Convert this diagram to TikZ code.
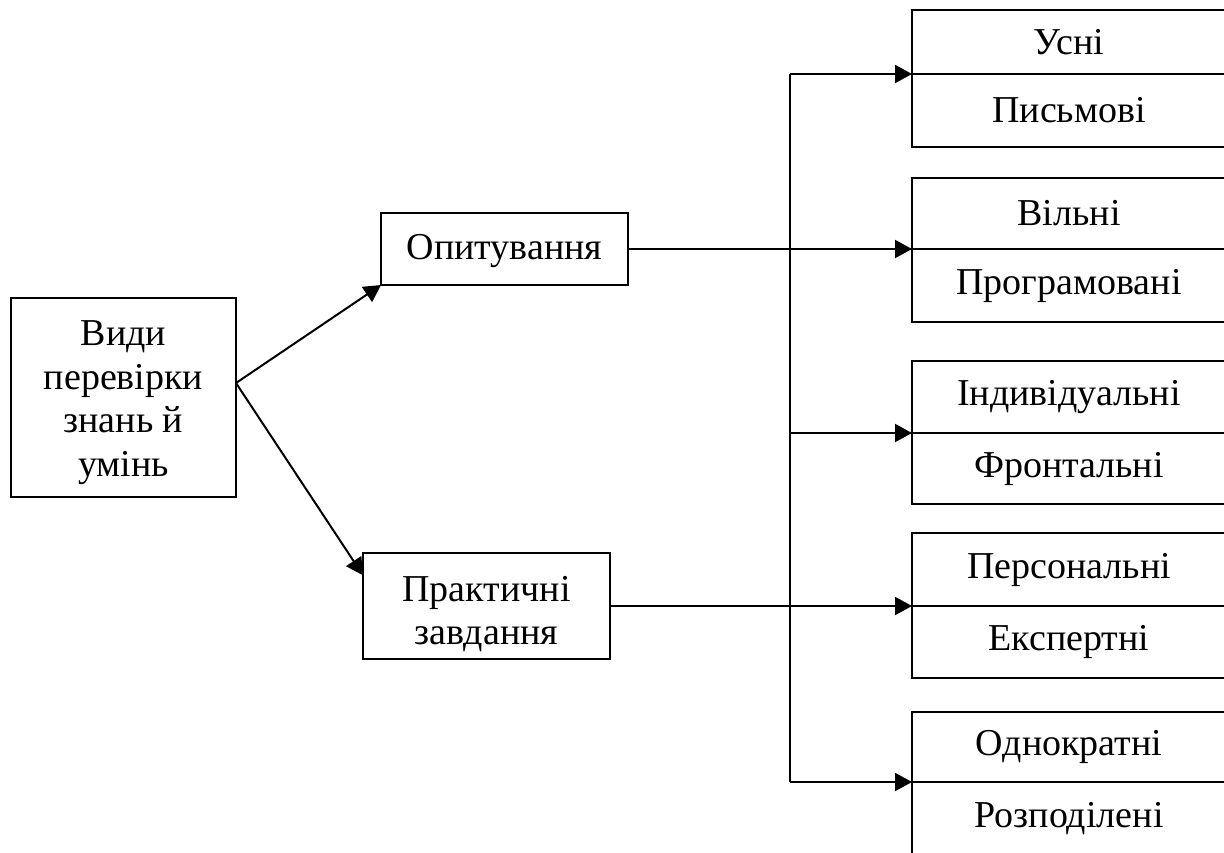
\documentclass[tikz,border=0pt]{standalone}
\usepackage{fontspec}
\setmainfont{Liberation Serif}
\usetikzlibrary{arrows.meta,calc}
\begin{document}
\begin{tikzpicture}[x=0.5pt,y=-0.5pt,
  every node/.style={font=\fontsize{19}{21.8}\selectfont, inner sep=0pt, outer sep=0pt},
  box/.style={draw, line width=1pt, minimum width=#1*0.5pt},
  cell/.style={draw, line width=1pt, minimum width=314*0.5pt, anchor=north west},
  ln/.style={line width=1pt},
  arr/.style={line width=1pt, -{Triangle[length=8.5pt,width=9pt]}}]
\useasboundingbox (0,0) rectangle (1224,852);
\clip (0,0) rectangle (1224,852);
% left boxes
\node[box=225, minimum height=99.5pt] (m) at (123.5,397.5) {};
\node[align=center] (mt) at ([yshift=-2.5pt]m.center) {Види\\перевірки\\знань й\\умінь};
\node[box=247, minimum height=36pt] (o) at (504.5,249) {};
\node (ot) at ([yshift=-1pt]o.center) {Опитування};
\node[box=247, minimum height=53pt] (p) at (486.5,606) {};
\node[align=center] (pt) at ([yshift=-4pt]p.center) {Практичні\\завдання};
% right cells
\node[cell, minimum height=32pt] (u1) at (912,10) {Усні};
\node[cell, minimum height=36.5pt] (l1) at (912,74) {Письмові};
\node[cell, minimum height=35.5pt] (u2) at (912,178) {Вільні};
\node[cell, minimum height=36.5pt] (l2) at (912,249) {Програмовані};
\node[cell, minimum height=36pt] (u3) at (912,361) {Індивідуальні};
\node[cell, minimum height=35.5pt] (l3) at (912,433) {Фронтальні};
\node[cell, minimum height=36.5pt] (u4) at (912,533) {Персональні};
\node[cell, minimum height=36pt] (l4) at (912,606) {Експертні};
\node[cell, minimum height=35pt] (u5) at (912,712) {Однократні};
\node[cell, minimum height=37pt] (l5) at (912,782) {Розподілені};
% bus
\coordinate (bt) at (790,74);
\coordinate (bb) at (790,782);
\draw[ln] (bt) -- (bb);
\draw[arr] (bt) -- (u1.south west);
\draw[arr] (790,433) -- (u3.south west);
\draw[arr] (bb) -- (u5.south west);
\draw[arr] (o.east) -- (u2.south west);
\draw[arr] (p.east) -- (u4.south west);
% main arrows
\draw[arr] ([yshift=7.25pt]m.east) -- (o.south west);
\draw[arr] ([yshift=7.25pt]m.east) -- ($(p.north west)!0.21!(p.south west)$);
\end{tikzpicture}
\end{document}
